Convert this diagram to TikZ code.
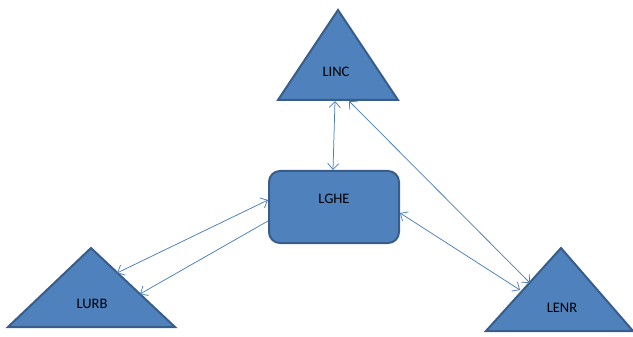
\documentclass[tikz,border=0pt]{standalone}
\usepackage{fontspec}
\setmainfont{Carlito}
\usetikzlibrary{arrows.meta}
\definecolor{shapefill}{HTML}{4F81BD}
\definecolor{shapeedge}{HTML}{385D8A}
\definecolor{linkcol}{HTML}{4A7EBB}
\tikzset{
  shp/.style={fill=shapefill, draw=shapeedge, line width=2pt, line join=miter},
  lbl/.style={font=\fontsize{14.5}{17}\selectfont, text=black, inner sep=0pt},
  link/.style={draw=linkcol, line width=0.75pt},
  tip/.tip={Straight Barb[length=6pt,width=11pt,line width=0.75pt]},
  both/.style={link, tip-tip},
  one/.style={link, -tip}
}
\begin{document}
\begin{tikzpicture}[x=1pt,y=-1pt]
\useasboundingbox (0,0) rectangle (633,337);
% shapes
\draw[shp] (338,10) -- (398,100) -- (278,100) -- cycle;
\draw[shp, rounded corners=11pt] (269,171) rectangle (399,243);
\draw[shp] (91,248) -- (175,327) -- (8,327) -- cycle;
\draw[shp] (561,248) -- (633,331) -- (486,331) -- cycle;
% labels
\node[lbl] (linc) at (336,72) {LINC};
\node[lbl] (lghe) at (334,199) {LGHE};
\node[lbl] (lurb) at (92,304) {LURB};
\node[lbl] (lenr) at (562,308) {LENR};
% connector ends
\coordinate (lincB1) at (335,101);
\coordinate (lincB2) at (349,101);
\coordinate (lgheT) at (333,170);
\coordinate (lgheR) at (400,213);
\coordinate (lgheL1) at (268,200);
\coordinate (lgheL2) at (268,221);
\coordinate (lenrA) at (530,283);
\coordinate (lenrB) at (520,290);
\coordinate (lurbA) at (117,273);
\coordinate (lurbB) at (140,294);
% connectors
\draw[both] (lincB1) -- (lgheT);
\draw[both] (lincB2) -- (lenrA);
\draw[both] (lgheR) -- (lenrB);
\draw[both] (lgheL1) -- (lurbA);
\draw[one] (lgheL2) -- (lurbB);
\end{tikzpicture}
\end{document}
